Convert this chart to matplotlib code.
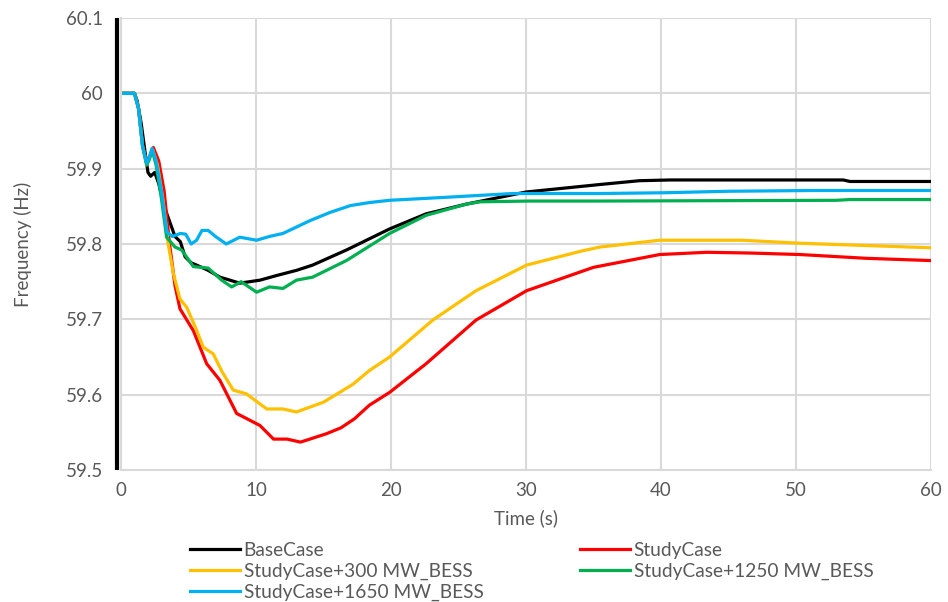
import matplotlib
matplotlib.use("Agg")
import matplotlib.pyplot as plt
import numpy as np

plt.rcParams["font.family"] = ["Lato", "DejaVu Sans"]

# ---- data ----
base_t = [0, 1.0, 1.2, 1.5, 1.8, 2.0, 2.2, 2.5, 2.8, 3.2, 3.6, 4.0, 4.4, 4.75, 5.2, 5.6,
          6.46, 7.33, 8.8, 10.3, 11.5, 13, 14.2, 16.7, 19.9, 22.6, 25.6, 30, 35.5,
          38.4, 40.7, 53.5, 54, 60]
base_f = [60, 60, 59.99, 59.96, 59.92, 59.895, 59.89, 59.895, 59.88, 59.85, 59.83, 59.81,
          59.803, 59.783, 59.775, 59.772, 59.765, 59.756, 59.748, 59.752, 59.758, 59.765,
          59.772, 59.792, 59.82, 59.84, 59.853, 59.869, 59.879, 59.884, 59.885, 59.885,
          59.883, 59.883]
base_spike_t = [-0.33, -0.33]
base_spike_f = [59.5, 60.1]

study_t = [0, 1.0, 1.3, 1.6, 1.9, 2.1, 2.4, 2.8, 3.2, 3.6, 4.0, 4.37, 5.36, 6.35, 7.33,
           8.57, 9.55, 10.3, 11.3, 12.3, 13.3, 15.2, 16.3, 17.3, 18.4, 19.9, 22.6, 26.3,
           30.05, 35, 39.9, 43.4, 46.6, 50.3, 55.2, 60]
study_f = [60, 60, 59.98, 59.93, 59.91, 59.915, 59.928, 59.91, 59.87, 59.80, 59.745,
           59.714, 59.685, 59.641, 59.619, 59.575, 59.566, 59.559, 59.541, 59.541, 59.537,
           59.548, 59.556, 59.568, 59.586, 59.603, 59.641, 59.699, 59.738, 59.769, 59.786,
           59.789, 59.788, 59.786, 59.781, 59.778]

b300_t = [0, 1.0, 1.3, 1.6, 1.9, 2.1, 2.35, 2.7, 3.1, 3.5, 3.88, 4.37, 4.87, 5.5, 6.1,
          6.84, 7.5, 8.32, 9.3, 10.8, 12, 13, 15, 16.2, 17.2, 18.4, 19.9, 23.1, 26.3,
          30.05, 34.2, 35.5, 39.9, 46, 50.3, 60]
b300_f = [60, 60, 59.98, 59.93, 59.905, 59.913, 59.925, 59.905, 59.86, 59.80, 59.761,
          59.727, 59.716, 59.69, 59.663, 59.654, 59.63, 59.606, 59.601, 59.581, 59.581,
          59.577, 59.59, 59.603, 59.614, 59.632, 59.65, 59.699, 59.738, 59.772, 59.791,
          59.796, 59.805, 59.805, 59.801, 59.795]

b1250_t = [0, 1.0, 1.3, 1.6, 1.9, 2.1, 2.3, 2.6, 3.0, 3.38, 4, 4.5, 5.36, 6.46, 7.46,
           8.2, 8.9, 10.05, 11, 12, 13, 14.2, 16.7, 19.9, 22.6, 25.6, 26.6, 30.3, 35.5,
           53, 54, 60]
b1250_f = [60, 60, 59.98, 59.93, 59.905, 59.912, 59.925, 59.905, 59.86, 59.809, 59.796,
           59.792, 59.77, 59.768, 59.752, 59.743, 59.75, 59.736, 59.743, 59.741, 59.752,
           59.756, 59.778, 59.814, 59.838, 59.853, 59.856, 59.857, 59.857, 59.858,
           59.859, 59.859]

b1650_t = [0, 1.0, 1.3, 1.6, 1.9, 2.1, 2.3, 2.6, 3.0, 3.4, 3.8, 4.4, 4.8, 5.2, 5.6, 6.0,
           6.46, 7.0, 7.8, 8.8, 10.05, 11, 12, 14, 15.5, 17, 18.4, 19.9, 24.1, 29, 35.5,
           40.2, 45, 51.3, 60]
b1650_f = [60, 60, 59.98, 59.93, 59.907, 59.915, 59.927, 59.91, 59.87, 59.816, 59.81,
           59.814, 59.813, 59.80, 59.805, 59.818, 59.818, 59.81, 59.80, 59.809, 59.805,
           59.81, 59.814, 59.831, 59.842, 59.851, 59.855, 59.858, 59.862, 59.867, 59.867,
           59.868, 59.87, 59.871, 59.871]

x_ticks = [0, 10, 20, 30, 40, 50, 60]
y_ticks = [59.5, 59.6, 59.7, 59.8, 59.9, 60.0, 60.1]

# ---- figure ----
fig = plt.figure(figsize=(9.48, 6.02), dpi=100)
ax = fig.add_axes([0.1276, 0.2193, 0.8544, 0.7508])

lw = 2.3
l_base, = ax.plot(base_t, base_f, color='black', lw=lw, label='BaseCase')
ax.plot(base_spike_t, base_spike_f, color='black', lw=3.0, clip_on=False,
        solid_capstyle='butt')
l_study, = ax.plot(study_t, study_f, color='#FF0000', lw=lw, label='StudyCase')
l_300, = ax.plot(b300_t, b300_f, color='#FFC000', lw=lw, label='StudyCase+300 MW_BESS')
l_1250, = ax.plot(b1250_t, b1250_f, color='#00B050', lw=lw, label='StudyCase+1250 MW_BESS')
l_1650, = ax.plot(b1650_t, b1650_f, color='#00B0F0', lw=lw, label='StudyCase+1650 MW_BESS')

ax.set_xlim(0, 60)
ax.set_ylim(59.5, 60.1)
ax.set_xticks(x_ticks)
ax.set_yticks(y_ticks)
ax.set_xticklabels([str(v) for v in x_ticks])
ax.set_yticklabels(['{:g}'.format(round(v, 1)) for v in y_ticks])
ax.grid(True, color='#d9d9d9', lw=1.5)
ax.set_axisbelow(True)
for s in ['top', 'right']:
    ax.spines[s].set_visible(False)
for s in ['left', 'bottom']:
    ax.spines[s].set_color('#d9d9d9')
    ax.spines[s].set_linewidth(1.5)
ax.tick_params(length=0, labelsize=13.5, colors='#595959')
ax.tick_params(axis='y', pad=13)
ax.tick_params(axis='x', pad=9)

ax.set_xlabel('Time (s)', fontsize=13.5, color='#595959', labelpad=7)
ax.set_ylabel('Frequency (Hz)', fontsize=13.5, color='#595959', labelpad=24)

# legend rows as in the reference: two fixed columns
leg_kw = dict(loc='upper left', frameon=False, fontsize=13.8, handlelength=2.6,
              handletextpad=0.2, labelspacing=0.2, borderaxespad=0, borderpad=0)
col1 = [l_base, l_300, l_1650]
col2 = [l_study, l_1250]
leg1 = fig.legend(handles=col1, labels=[h.get_label() for h in col1],
                  bbox_to_anchor=(0.2004, 0.100), **leg_kw)
leg2 = fig.legend(handles=col2, labels=[h.get_label() for h in col2],
                  bbox_to_anchor=(0.6118, 0.100), **leg_kw)
for leg in (leg1, leg2):
    for t in leg.get_texts():
        t.set_color('#595959')

fig.savefig('out.png', dpi=100)
